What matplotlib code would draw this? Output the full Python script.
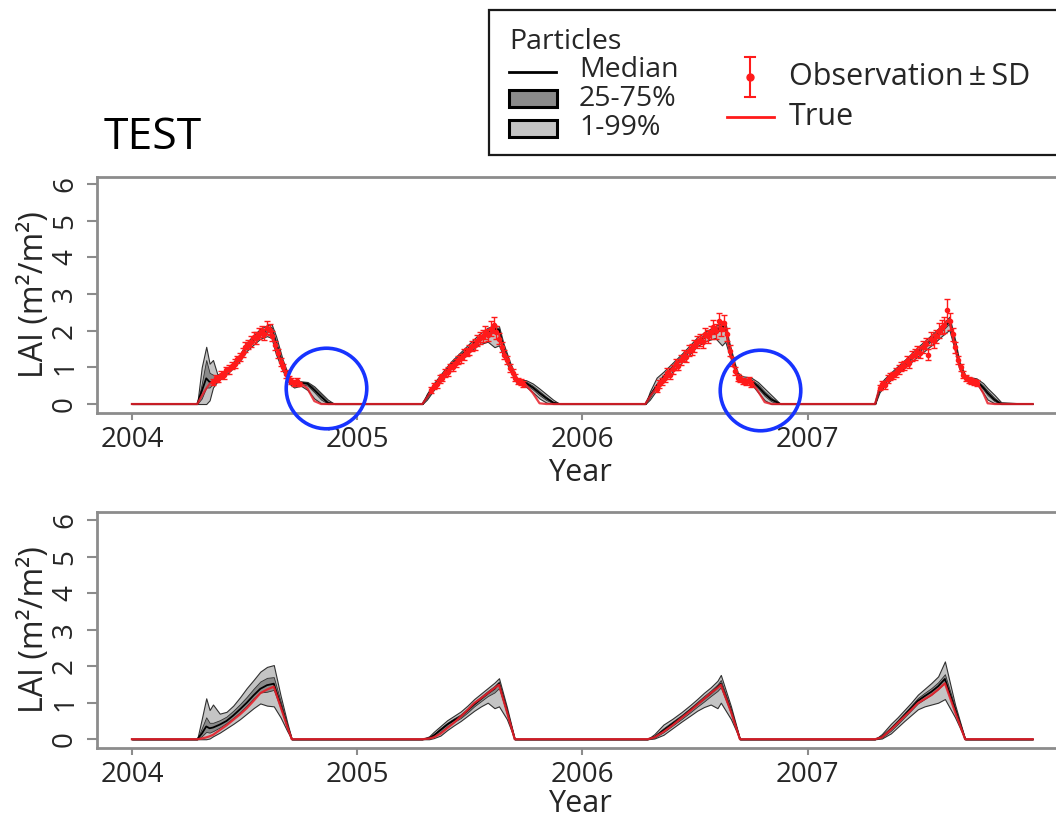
import numpy as np
import matplotlib
matplotlib.use("Agg")
import matplotlib.pyplot as plt
from matplotlib.patches import Rectangle
from matplotlib.lines import Line2D

plt.rcParams['font.family'] = ['Open Sans', 'DejaVu Sans']

# ---------------- TOP PANEL (TEST, with assimilation) ----------------
top_t_2004 = [2004.00, 2004.29, 2004.31, 2004.33, 2004.345, 2004.36, 2004.38, 2004.41, 2004.44, 2004.48, 2004.51, 2004.54, 2004.57, 2004.60, 2004.62, 2004.64, 2004.67, 2004.70, 2004.72, 2004.75, 2004.78, 2004.81, 2004.84, 2004.87, 2004.90]
top_true_2004 = [0, 0, 0.22, 0.42, 0.55, 0.63, 0.72, 0.85, 1.01, 1.30, 1.60, 1.78, 1.95, 2.05, 2.00, 1.56, 1.01, 0.65, 0.60, 0.57, 0.42, 0.08, 0, 0, 0]
top_med_2004 = [0, 0, 0.35, 0.70, 0.60, 0.60, 0.70, 0.83, 1.00, 1.28, 1.58, 1.76, 1.93, 2.02, 2.05, 1.65, 1.05, 0.62, 0.52, 0.58, 0.55, 0.38, 0.20, 0.03, 0]
top_q01_2004 = [0, 0, 0, 0, 0.10, 0.45, 0.62, 0.76, 0.92, 1.18, 1.45, 1.62, 1.78, 1.85, 1.80, 1.35, 0.90, 0.55, 0.45, 0.50, 0.38, 0.15, 0.02, 0, 0]
top_q25_2004 = [0, 0, 0.15, 0.45, 0.45, 0.55, 0.66, 0.80, 0.97, 1.25, 1.54, 1.72, 1.88, 1.97, 1.98, 1.55, 1.00, 0.60, 0.50, 0.55, 0.50, 0.32, 0.12, 0.01, 0]
top_q75_2004 = [0, 0, 0.55, 1.20, 0.85, 0.80, 0.74, 0.86, 1.03, 1.31, 1.62, 1.80, 1.98, 2.08, 2.10, 1.72, 1.10, 0.65, 0.56, 0.60, 0.58, 0.44, 0.26, 0.07, 0]
top_q99_2004 = [0, 0, 1.00, 1.56, 1.10, 1.20, 0.80, 0.90, 1.08, 1.36, 1.68, 1.88, 2.05, 2.15, 2.18, 1.85, 1.20, 0.70, 0.60, 0.62, 0.60, 0.48, 0.30, 0.12, 0]

top_t_2005 = [2005.29, 2005.31, 2005.34, 2005.38, 2005.42, 2005.46, 2005.50, 2005.54, 2005.58, 2005.61, 2005.63, 2005.65, 2005.68, 2005.71, 2005.73, 2005.75, 2005.78, 2005.81, 2005.84, 2005.87, 2005.90]
top_true_2005 = [0, 0.18, 0.45, 0.75, 1.05, 1.28, 1.52, 1.74, 1.92, 1.97, 1.90, 1.45, 1.00, 0.65, 0.60, 0.52, 0.30, 0.02, 0, 0, 0]
top_med_2005 = [0, 0.20, 0.47, 0.78, 1.08, 1.32, 1.55, 1.78, 1.97, 2.05, 2.02, 1.52, 1.02, 0.63, 0.60, 0.57, 0.45, 0.30, 0.16, 0.04, 0]
top_q01_2005 = [0, 0.12, 0.38, 0.68, 0.98, 1.20, 1.42, 1.62, 1.70, 1.55, 1.60, 1.30, 0.90, 0.55, 0.52, 0.47, 0.32, 0.15, 0.04, 0, 0]
top_q25_2005 = [0, 0.17, 0.43, 0.74, 1.04, 1.28, 1.50, 1.73, 1.90, 1.95, 1.93, 1.45, 0.98, 0.60, 0.57, 0.53, 0.40, 0.24, 0.11, 0.02, 0]
top_q75_2005 = [0, 0.23, 0.50, 0.82, 1.12, 1.36, 1.60, 1.83, 2.02, 2.10, 2.07, 1.58, 1.06, 0.66, 0.63, 0.61, 0.50, 0.35, 0.20, 0.06, 0]
top_q99_2005 = [0, 0.28, 0.56, 0.88, 1.18, 1.42, 1.66, 1.90, 2.08, 2.15, 2.12, 1.65, 1.12, 0.70, 0.66, 0.65, 0.56, 0.42, 0.27, 0.12, 0]

top_t_2006 = [2006.28, 2006.30, 2006.33, 2006.36, 2006.40, 2006.44, 2006.48, 2006.51, 2006.55, 2006.59, 2006.62, 2006.635, 2006.65, 2006.675, 2006.69, 2006.71, 2006.75, 2006.78, 2006.81, 2006.84, 2006.88]
top_true_2006 = [0, 0.20, 0.45, 0.70, 0.98, 1.24, 1.50, 1.72, 1.90, 2.03, 2.15, 2.18, 1.56, 1.01, 0.74, 0.65, 0.62, 0.35, 0.05, 0, 0]
top_med_2006 = [0, 0.22, 0.50, 0.74, 1.00, 1.25, 1.50, 1.70, 1.88, 2.00, 2.10, 2.12, 1.60, 1.05, 0.78, 0.68, 0.63, 0.48, 0.28, 0.12, 0]
top_q01_2006 = [0, 0.12, 0.38, 0.60, 0.88, 1.12, 1.38, 1.58, 1.72, 1.80, 1.60, 1.70, 1.40, 0.95, 0.70, 0.60, 0.55, 0.32, 0.10, 0, 0]
top_q25_2006 = [0, 0.18, 0.46, 0.70, 0.96, 1.21, 1.46, 1.66, 1.84, 1.95, 2.02, 2.05, 1.54, 1.01, 0.75, 0.65, 0.60, 0.43, 0.22, 0.07, 0]
top_q75_2006 = [0, 0.27, 0.55, 0.79, 1.05, 1.30, 1.55, 1.75, 1.93, 2.06, 2.16, 2.18, 1.66, 1.09, 0.81, 0.71, 0.67, 0.54, 0.34, 0.17, 0]
top_q99_2006 = [0, 0.34, 0.72, 0.88, 1.12, 1.36, 1.62, 1.82, 1.99, 2.12, 2.22, 2.25, 1.74, 1.15, 0.86, 0.76, 0.72, 0.60, 0.42, 0.24, 0]

top_t_2007 = [2007.30, 2007.32, 2007.34, 2007.36, 2007.40, 2007.44, 2007.48, 2007.52, 2007.56, 2007.59, 2007.615, 2007.63, 2007.655, 2007.675, 2007.70, 2007.72, 2007.75, 2007.78, 2007.80, 2007.83, 2007.86, 2008.00]
top_true_2007 = [0, 0.45, 0.58, 0.70, 0.95, 1.15, 1.40, 1.62, 1.85, 2.05, 2.20, 2.30, 1.56, 1.01, 0.70, 0.65, 0.62, 0.30, 0.02, 0, 0, 0]
top_med_2007 = [0, 0.42, 0.58, 0.70, 0.93, 1.14, 1.38, 1.60, 1.82, 2.00, 2.15, 2.25, 1.62, 1.05, 0.72, 0.66, 0.63, 0.45, 0.30, 0.12, 0, 0]
top_q01_2007 = [0, 0.32, 0.48, 0.60, 0.83, 1.03, 1.25, 1.45, 1.65, 1.82, 1.95, 2.02, 1.45, 0.95, 0.65, 0.60, 0.56, 0.30, 0.12, 0.02, 0, 0]
top_q25_2007 = [0, 0.39, 0.55, 0.67, 0.90, 1.10, 1.34, 1.56, 1.78, 1.96, 2.10, 2.20, 1.57, 1.02, 0.70, 0.64, 0.61, 0.40, 0.24, 0.08, 0, 0]
top_q75_2007 = [0, 0.46, 0.62, 0.74, 0.97, 1.18, 1.42, 1.64, 1.86, 2.05, 2.20, 2.30, 1.68, 1.09, 0.75, 0.69, 0.66, 0.50, 0.36, 0.17, 0.02, 0]
top_q99_2007 = [0, 0.52, 0.68, 0.80, 1.03, 1.25, 1.50, 1.72, 1.94, 2.12, 2.28, 2.38, 1.76, 1.15, 0.79, 0.73, 0.70, 0.57, 0.43, 0.25, 0.05, 0]

# Observations (value +/- SD)
obs_t_2004 = [2004.360, 2004.372, 2004.384, 2004.396, 2004.408, 2004.420, 2004.432, 2004.444, 2004.456, 2004.468, 2004.480, 2004.492, 2004.504, 2004.516, 2004.528, 2004.540, 2004.552, 2004.564, 2004.576, 2004.588, 2004.600, 2004.612, 2004.624, 2004.636, 2004.648, 2004.660, 2004.672, 2004.684, 2004.696, 2004.708, 2004.720, 2004.732, 2004.744]
obs_v_2004 = [0.60, 0.70, 0.68, 0.80, 0.78, 0.92, 0.95, 1.05, 1.10, 1.22, 1.28, 1.40, 1.55, 1.62, 1.70, 1.82, 1.80, 1.92, 1.98, 1.90, 2.08, 2.02, 1.85, 1.60, 1.38, 1.15, 1.00, 0.82, 0.68, 0.62, 0.58, 0.63, 0.55]
obs_sd_2004 = [0.08, 0.10, 0.08, 0.10, 0.10, 0.10, 0.12, 0.10, 0.12, 0.10, 0.12, 0.12, 0.14, 0.12, 0.15, 0.14, 0.15, 0.15, 0.16, 0.15, 0.18, 0.15, 0.14, 0.12, 0.12, 0.10, 0.10, 0.10, 0.08, 0.08, 0.08, 0.08, 0.06]

obs_t_2005 = [2005.330, 2005.342, 2005.354, 2005.366, 2005.378, 2005.390, 2005.402, 2005.414, 2005.426, 2005.438, 2005.450, 2005.462, 2005.474, 2005.486, 2005.498, 2005.510, 2005.522, 2005.534, 2005.546, 2005.558, 2005.570, 2005.582, 2005.594, 2005.606, 2005.618, 2005.630, 2005.642, 2005.654, 2005.666, 2005.678, 2005.690, 2005.702, 2005.714, 2005.726, 2005.738]
obs_v_2005 = [0.38, 0.50, 0.55, 0.68, 0.72, 0.85, 0.88, 1.00, 1.02, 1.12, 1.20, 1.25, 1.35, 1.42, 1.48, 1.58, 1.62, 1.72, 1.80, 1.85, 1.95, 1.88, 2.05, 2.15, 1.95, 1.78, 1.55, 1.35, 1.20, 0.98, 0.85, 0.72, 0.62, 0.60, 0.55]
obs_sd_2005 = [0.08, 0.08, 0.10, 0.10, 0.10, 0.10, 0.12, 0.10, 0.12, 0.12, 0.12, 0.12, 0.14, 0.12, 0.14, 0.14, 0.15, 0.15, 0.15, 0.16, 0.18, 0.16, 0.20, 0.22, 0.18, 0.15, 0.14, 0.12, 0.12, 0.10, 0.10, 0.10, 0.08, 0.08, 0.08]

obs_t_2006 = [2006.330, 2006.342, 2006.354, 2006.366, 2006.378, 2006.390, 2006.402, 2006.414, 2006.426, 2006.438, 2006.450, 2006.462, 2006.474, 2006.486, 2006.498, 2006.510, 2006.522, 2006.534, 2006.546, 2006.558, 2006.570, 2006.582, 2006.594, 2006.606, 2006.618, 2006.630, 2006.642, 2006.654, 2006.666, 2006.678, 2006.690, 2006.702, 2006.714, 2006.726, 2006.738, 2006.750]
obs_v_2006 = [0.42, 0.55, 0.62, 0.70, 0.85, 0.80, 0.95, 1.08, 1.05, 1.20, 1.32, 1.28, 1.45, 1.50, 1.58, 1.70, 1.75, 1.68, 1.90, 1.85, 1.95, 2.10, 1.98, 2.25, 2.05, 2.20, 1.90, 1.45, 1.15, 0.90, 0.72, 0.68, 0.62, 0.60, 0.65, 0.55]
obs_sd_2006 = [0.08, 0.10, 0.10, 0.10, 0.12, 0.12, 0.12, 0.14, 0.12, 0.14, 0.14, 0.14, 0.15, 0.15, 0.16, 0.16, 0.16, 0.16, 0.18, 0.18, 0.18, 0.20, 0.20, 0.24, 0.20, 0.22, 0.18, 0.15, 0.12, 0.10, 0.10, 0.08, 0.08, 0.08, 0.08, 0.08]

obs_t_2007 = [2007.320, 2007.332, 2007.344, 2007.356, 2007.368, 2007.380, 2007.392, 2007.404, 2007.416, 2007.428, 2007.440, 2007.452, 2007.464, 2007.476, 2007.488, 2007.500, 2007.512, 2007.524, 2007.536, 2007.548, 2007.560, 2007.572, 2007.584, 2007.596, 2007.608, 2007.620, 2007.632, 2007.644, 2007.656, 2007.668, 2007.680, 2007.692, 2007.704, 2007.716, 2007.728, 2007.740, 2007.752]
obs_v_2007 = [0.45, 0.55, 0.52, 0.68, 0.75, 0.78, 0.85, 0.95, 1.02, 1.05, 1.18, 1.12, 1.30, 1.35, 1.42, 1.40, 1.55, 1.65, 1.35, 1.78, 1.72, 1.85, 2.00, 2.10, 2.15, 2.55, 2.25, 1.90, 1.55, 1.20, 1.00, 0.80, 0.72, 0.65, 0.62, 0.60, 0.58]
obs_sd_2007 = [0.08, 0.08, 0.10, 0.10, 0.10, 0.10, 0.12, 0.12, 0.12, 0.12, 0.14, 0.14, 0.14, 0.15, 0.15, 0.15, 0.16, 0.16, 0.16, 0.18, 0.18, 0.18, 0.20, 0.20, 0.22, 0.30, 0.22, 0.18, 0.15, 0.12, 0.10, 0.10, 0.08, 0.08, 0.08, 0.08, 0.08]

# ---------------- BOTTOM PANEL (open loop) ----------------
bot_t_2004 = [2004.00, 2004.29, 2004.31, 2004.33, 2004.345, 2004.36, 2004.39, 2004.42, 2004.45, 2004.48, 2004.51, 2004.54, 2004.57, 2004.60, 2004.63, 2004.66, 2004.69, 2004.71]
bot_true_2004 = [0, 0, 0.02, 0.05, 0.08, 0.12, 0.25, 0.38, 0.53, 0.68, 0.85, 1.05, 1.26, 1.36, 1.44, 0.89, 0.34, 0]
bot_med_2004 = [0, 0, 0.15, 0.35, 0.30, 0.32, 0.40, 0.50, 0.65, 0.82, 1.00, 1.20, 1.38, 1.48, 1.52, 0.95, 0.36, 0]
bot_q01_2004 = [0, 0, 0, 0, 0.02, 0.08, 0.18, 0.30, 0.42, 0.55, 0.70, 0.85, 0.98, 0.92, 0.90, 0.60, 0.22, 0]
bot_q25_2004 = [0, 0, 0.08, 0.20, 0.18, 0.22, 0.32, 0.44, 0.58, 0.74, 0.92, 1.12, 1.28, 1.30, 1.35, 0.85, 0.32, 0]
bot_q75_2004 = [0, 0, 0.30, 0.60, 0.45, 0.45, 0.52, 0.62, 0.78, 0.96, 1.16, 1.38, 1.58, 1.68, 1.70, 1.05, 0.40, 0]
bot_q99_2004 = [0, 0, 0.55, 1.12, 0.80, 0.95, 0.70, 0.75, 0.92, 1.15, 1.40, 1.62, 1.85, 1.98, 2.03, 1.20, 0.45, 0]

bot_t_2005 = [2005.29, 2005.32, 2005.34, 2005.37, 2005.40, 2005.43, 2005.46, 2005.49, 2005.52, 2005.55, 2005.58, 2005.61, 2005.63, 2005.665, 2005.70]
bot_true_2005 = [0, 0.02, 0.05, 0.15, 0.30, 0.45, 0.62, 0.80, 0.99, 1.12, 1.26, 1.40, 1.49, 0.75, 0]
bot_med_2005 = [0, 0.03, 0.10, 0.25, 0.40, 0.52, 0.62, 0.78, 0.95, 1.10, 1.25, 1.38, 1.52, 0.78, 0]
bot_q01_2005 = [0, 0, 0.03, 0.10, 0.25, 0.38, 0.50, 0.64, 0.78, 0.90, 1.00, 0.85, 0.90, 0.55, 0]
bot_q25_2005 = [0, 0.02, 0.07, 0.20, 0.35, 0.47, 0.58, 0.73, 0.90, 1.04, 1.18, 1.28, 1.40, 0.72, 0]
bot_q75_2005 = [0, 0.05, 0.14, 0.30, 0.45, 0.57, 0.68, 0.84, 1.02, 1.17, 1.32, 1.46, 1.58, 0.82, 0]
bot_q99_2005 = [0, 0.08, 0.20, 0.36, 0.52, 0.64, 0.76, 0.92, 1.10, 1.25, 1.40, 1.55, 1.67, 0.88, 0]

bot_t_2006 = [2006.29, 2006.32, 2006.36, 2006.40, 2006.44, 2006.48, 2006.51, 2006.54, 2006.57, 2006.60, 2006.615, 2006.66, 2006.70]
bot_true_2006 = [0, 0.05, 0.20, 0.38, 0.58, 0.78, 0.94, 1.10, 1.26, 1.40, 1.49, 0.75, 0]
bot_med_2006 = [0, 0.06, 0.24, 0.42, 0.60, 0.80, 0.95, 1.10, 1.25, 1.42, 1.52, 0.78, 0]
bot_q01_2006 = [0, 0.02, 0.12, 0.30, 0.48, 0.65, 0.78, 0.88, 0.95, 0.85, 1.00, 0.55, 0]
bot_q25_2006 = [0, 0.04, 0.19, 0.37, 0.55, 0.74, 0.89, 1.03, 1.18, 1.32, 1.42, 0.72, 0]
bot_q75_2006 = [0, 0.09, 0.30, 0.48, 0.66, 0.86, 1.02, 1.18, 1.33, 1.50, 1.62, 0.83, 0]
bot_q99_2006 = [0, 0.14, 0.40, 0.56, 0.74, 0.94, 1.10, 1.27, 1.42, 1.60, 1.76, 0.90, 0]

bot_t_2007 = [2007.30, 2007.33, 2007.37, 2007.40, 2007.43, 2007.46, 2007.49, 2007.52, 2007.55, 2007.58, 2007.61, 2007.655, 2007.70, 2008.00]
bot_true_2007 = [0, 0.05, 0.26, 0.44, 0.62, 0.80, 0.99, 1.10, 1.21, 1.36, 1.53, 0.75, 0, 0]
bot_med_2007 = [0, 0.06, 0.28, 0.46, 0.65, 0.85, 1.05, 1.18, 1.30, 1.45, 1.65, 0.82, 0, 0]
bot_q01_2007 = [0, 0.02, 0.16, 0.33, 0.50, 0.66, 0.82, 0.90, 0.95, 1.00, 1.10, 0.60, 0, 0]
bot_q25_2007 = [0, 0.04, 0.23, 0.41, 0.60, 0.79, 0.98, 1.10, 1.22, 1.37, 1.55, 0.77, 0, 0]
bot_q75_2007 = [0, 0.09, 0.33, 0.52, 0.72, 0.92, 1.13, 1.27, 1.40, 1.56, 1.78, 0.88, 0, 0]
bot_q99_2007 = [0, 0.14, 0.42, 0.60, 0.80, 1.00, 1.22, 1.38, 1.54, 1.72, 2.13, 0.95, 0, 0]

# highlighted periods (blue circles) in the top panel
highlight_t = [2004.86, 2006.79]
highlight_v = [0.43, 0.38]

year_ticks = [2004, 2005, 2006, 2007]
lai_ticks = [0, 1, 2, 3, 4, 5, 6]
title_text = "TEST"


def cat(*lists):
    return np.concatenate([np.asarray(l, dtype=float) for l in lists])


top = dict(
    t=cat(top_t_2004, top_t_2005, top_t_2006, top_t_2007),
    true=cat(top_true_2004, top_true_2005, top_true_2006, top_true_2007),
    med=cat(top_med_2004, top_med_2005, top_med_2006, top_med_2007),
    q01=cat(top_q01_2004, top_q01_2005, top_q01_2006, top_q01_2007),
    q25=cat(top_q25_2004, top_q25_2005, top_q25_2006, top_q25_2007),
    q75=cat(top_q75_2004, top_q75_2005, top_q75_2006, top_q75_2007),
    q99=cat(top_q99_2004, top_q99_2005, top_q99_2006, top_q99_2007),
)
bot = dict(
    t=cat(bot_t_2004, bot_t_2005, bot_t_2006, bot_t_2007),
    true=cat(bot_true_2004, bot_true_2005, bot_true_2006, bot_true_2007),
    med=cat(bot_med_2004, bot_med_2005, bot_med_2006, bot_med_2007),
    q01=cat(bot_q01_2004, bot_q01_2005, bot_q01_2006, bot_q01_2007),
    q25=cat(bot_q25_2004, bot_q25_2005, bot_q25_2006, bot_q25_2007),
    q75=cat(bot_q75_2004, bot_q75_2005, bot_q75_2006, bot_q75_2007),
    q99=cat(bot_q99_2004, bot_q99_2005, bot_q99_2006, bot_q99_2007),
)
obs_t = cat(obs_t_2004, obs_t_2005, obs_t_2006, obs_t_2007)
obs_v = cat(obs_v_2004, obs_v_2005, obs_v_2006, obs_v_2007)
obs_sd = cat(obs_sd_2004, obs_sd_2005, obs_sd_2006, obs_sd_2007)

W, H = 1056, 822
fig = plt.figure(figsize=(W / 100, H / 100), dpi=100)

SPINE = '#8c8c8c'
TXT = '#262626'
LIGHT = '#c4c4c4'
DARK = '#8a8a8a'
RED = '#ff1a1a'


def px_axes(left, top_px, right, bottom_px):
    return fig.add_axes([left / W, 1 - bottom_px / H, (right - left) / W, (bottom_px - top_px) / H])


def style(ax, ylo, yhi):
    ax.set_xlim(2003.845, 2008.13)
    ax.set_ylim(ylo, yhi)
    ax.set_xticks(year_ticks)
    ax.set_yticks(lai_ticks)
    ax.tick_params(direction='out', width=1.5, color=SPINE,
                   labelsize=20, labelcolor=TXT)
    ax.tick_params(axis='x', length=5, pad=4)
    ax.tick_params(axis='y', length=7, pad=6, labelrotation=90)
    for lab in ax.get_yticklabels():
        lab.set_va('center')
    for s in ['left', 'top', 'bottom']:
        ax.spines[s].set_color(SPINE)
        ax.spines[s].set_linewidth(2.0)
    ax.spines['right'].set_visible(False)
    ax.set_xlabel('Year', fontsize=22, color=TXT)
    ax.set_ylabel('LAI (m²/m²)', fontsize=23, color=TXT)
    ax.yaxis.set_label_coords(-0.048, 0.5)


def draw_particles(ax, d):
    ax.fill_between(d['t'], d['q01'], d['q99'], facecolor=LIGHT, edgecolor='#303030', lw=0.8, zorder=2)
    ax.fill_between(d['t'], d['q25'], d['q75'], facecolor=DARK, edgecolor='#303030', lw=0.6, zorder=3)
    ax.plot(d['t'], d['med'], color='black', lw=1.3, zorder=4)


# top panel
ax1 = px_axes(97, 177, 1062, 413)
draw_particles(ax1, top)
ax1.plot(top['t'], top['true'], color='#e8202a', lw=1.6, alpha=0.85, zorder=5)
ax1.errorbar(obs_t, obs_v, yerr=obs_sd, fmt='o', ms=3, color=RED, ecolor=RED,
             elinewidth=1.0, capsize=2.5, capthick=1.0, zorder=6)
ax1.plot(highlight_t, highlight_v, linestyle='none', marker='o', ms=58, mfc='none',
         mec='#1733ff', mew=2.6, clip_on=False, zorder=7)
style(ax1, -0.245, 6.19)
ax1.xaxis.set_label_coords(0.5, -0.19)

# bottom panel
ax2 = px_axes(97, 512, 1062, 748)
draw_particles(ax2, bot)
ax2.plot(bot['t'], bot['true'], color='#e8202a', lw=1.6, alpha=0.9, zorder=5)
style(ax2, -0.24, 6.22)
ax2.xaxis.set_label_coords(0.5, -0.175)

# title
fig.text(104 / W, 1 - 138 / H, title_text, fontsize=32, color='black', va='center', ha='left')

# legend (drawn in pixel space)
lg = fig.add_axes([0, 0, 1, 1], zorder=10)
lg.set_xlim(0, W)
lg.set_ylim(H, 0)
lg.axis('off')
lg.patch.set_alpha(0)
lg.add_patch(Rectangle((489, 10), 600, 145, facecolor='white', edgecolor='#1a1a1a', lw=1.6))
fs = 20.5
lg.text(509, 42, 'Particles', fontsize=20.5, va='center', ha='left', color=TXT)
lg.add_line(Line2D([509, 556], [72, 72], color='black', lw=2))
lg.text(579, 70, 'Median', fontsize=fs, va='center', ha='left', color=TXT)
lg.add_patch(Rectangle((509, 90), 48, 17, facecolor=DARK, edgecolor='black', lw=2.2))
lg.text(579, 99, '25-75%', fontsize=fs, va='center', ha='left', color=TXT)
lg.add_patch(Rectangle((509, 120), 48, 17, facecolor=LIGHT, edgecolor='black', lw=2.2))
lg.text(579, 128, '1-99%', fontsize=fs, va='center', ha='left', color=TXT)
lg.add_line(Line2D([750, 750], [57, 97], color=RED, lw=1.5))
lg.add_line(Line2D([745, 755], [57, 57], color=RED, lw=1.5))
lg.add_line(Line2D([745, 755], [97, 97], color=RED, lw=1.5))
lg.add_line(Line2D([750], [77], marker='o', ms=5, color=RED))
lg.text(789, 77, 'Observation\u2009±\u2009SD', fontsize=22, va='center', ha='left', color=TXT)
lg.add_line(Line2D([727, 774], [117, 117], color=RED, lw=2))
lg.text(789, 117, 'True', fontsize=22, va='center', ha='left', color=TXT)

fig.savefig('out.png', dpi=100)
